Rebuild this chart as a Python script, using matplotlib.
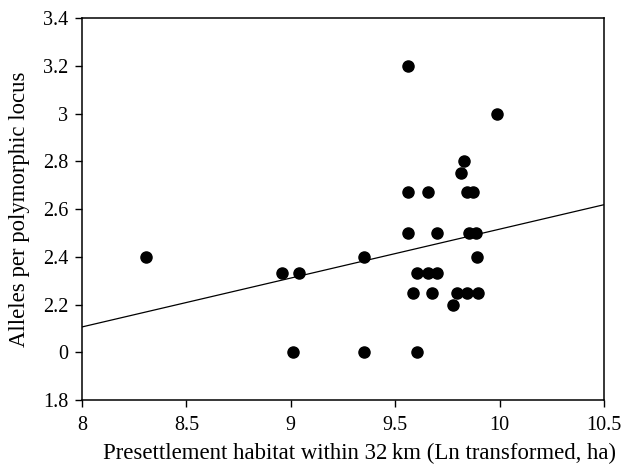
import matplotlib
matplotlib.use("Agg")
import matplotlib.pyplot as plt

plt.rcParams['font.family'] = ['Liberation Serif', 'DejaVu Serif']

# Données
habitat = [8.307, 8.958, 9.038, 9.009, 9.351, 9.351, 9.563, 9.563, 9.563,
           9.603, 9.584, 9.603, 9.656, 9.658, 9.675, 9.702, 9.702, 9.775,
           9.797, 9.814, 9.830, 9.844, 9.873, 9.855, 9.887, 9.890, 9.845,
           9.895, 9.986]
alleles = [2.40, 2.33, 2.33, 2.00, 2.40, 2.00, 3.20, 2.67, 2.50,
           2.33, 2.25, 2.00, 2.67, 2.33, 2.25, 2.50, 2.33, 2.20,
           2.25, 2.75, 2.80, 2.67, 2.67, 2.50, 2.50, 2.40, 2.25,
           2.25, 3.00]

# Droite de régression (extrémités)
fit_x = [8.0, 10.5]
fit_y = [2.106, 2.618]

x_ticks = [8, 8.5, 9, 9.5, 10, 10.5]
x_labels = ["8", "8.5", "9", "9.5", "10", "10.5"]
y_ticks = [1.8, 2.0, 2.2, 2.4, 2.6, 2.8, 3.0, 3.2, 3.4]
y_labels = ["1.8", "0", "2.2", "2.4", "2.6", "2.8", "3", "3.2", "3.4"]

fig = plt.figure(figsize=(6.22, 4.68), dpi=100)
ax = fig.add_axes([0.1318, 0.1453, 0.8392, 0.8162])

ax.plot(habitat, alleles, 'o', color='black', markersize=8, clip_on=False)
ax.plot(fit_x, fit_y, color='black', linewidth=0.9)

ax.set_xlim(8, 10.5)
ax.set_ylim(1.8, 3.4)
ax.set_xticks(x_ticks)
ax.set_xticklabels(x_labels)
ax.set_yticks(y_ticks)
ax.set_yticklabels(y_labels)

ax.tick_params(direction='out', length=4.8, width=1, labelsize=14.5, colors='black')
ax.tick_params(axis='x', pad=7)
ax.tick_params(axis='y', pad=5)
for s in ax.spines.values():
    s.set_linewidth(1.1)

ax.set_xlabel("Presettlement habitat within 32\u2009km (Ln transformed, ha)", fontsize=16.4)
ax.set_ylabel("Alleles per polymorphic locus", fontsize=16.4)
ax.xaxis.set_label_coords(0.531, -0.112)
ax.yaxis.set_label_coords(-0.099, 0.5)

fig.savefig("out.png", dpi=100)
